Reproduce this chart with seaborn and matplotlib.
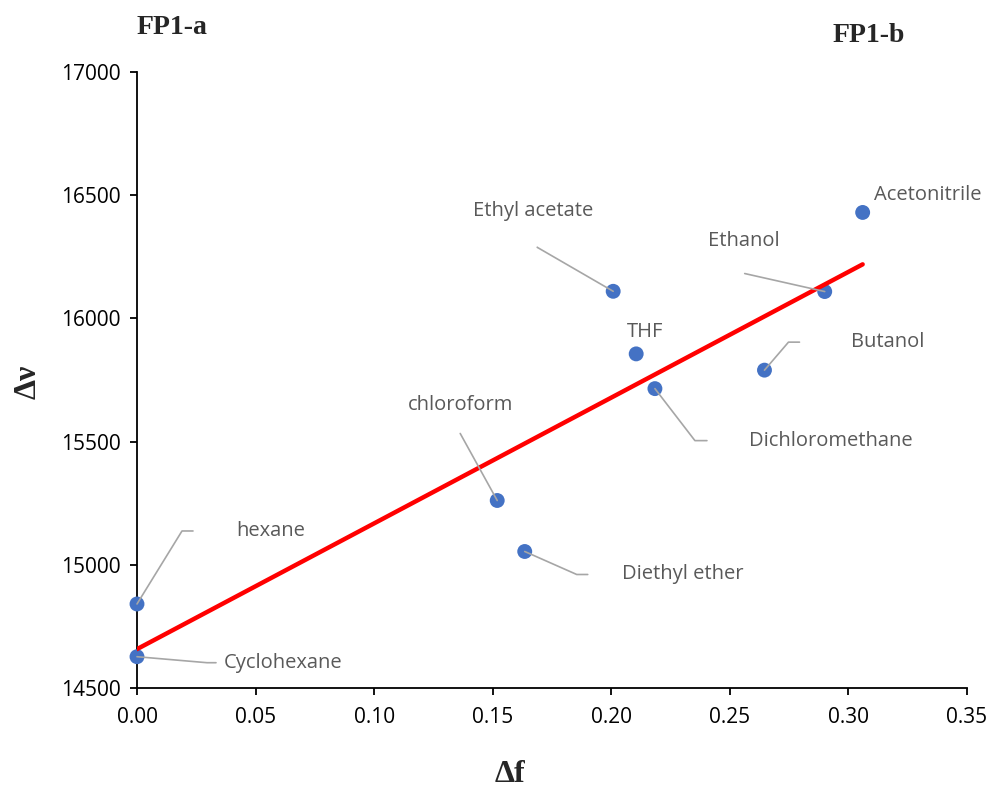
import numpy as np
import matplotlib
matplotlib.use("Agg")
import matplotlib.pyplot as plt
import seaborn as sns

# solvent polarity data (Lippert-Mataga)
solvents = ["hexane", "Cyclohexane", "chloroform", "Diethyl ether", "Ethyl acetate",
            "THF", "Dichloromethane", "Butanol", "Ethanol", "Acetonitrile"]
delta_f = [0.0, 0.0, 0.1519, 0.1635, 0.2008, 0.2105, 0.2184, 0.2646, 0.2900, 0.3060]
delta_nu = [14841, 14627, 15261, 15054, 16110, 15856, 15715, 15790, 16109, 16430]

x_ticks = [0.0, 0.05, 0.10, 0.15, 0.20, 0.25, 0.30, 0.35]
y_ticks = [14500, 15000, 15500, 16000, 16500, 17000]

# label placement in pixels: (elbow, end of leader, text pos, ha)
label_layout = {
    "hexane": ((45, 73), (56, 73), (99, 73), "left"),
    "Cyclohexane": ((70, -6), (79, -6), (87, -6), "left"),
    "chloroform": ((-37, 67), (-37, 67), (-37, 95), "center"),
    "Diethyl ether": ((52, -23), (63, -23), (97, -23), "left"),
    "Ethyl acetate": ((-76, 44), (-76, 44), (-80, 80), "center"),
    "THF": (None, None, (9, 22), "center"),
    "Dichloromethane": ((40, -52), (52, -52), (94, -52), "left"),
    "Butanol": ((24, 28), (35, 28), (87, 28), "left"),
    "Ethanol": ((-80, 18), (-80, 18), (-81, 51), "center"),
    "Acetonitrile": (None, None, (11, 17), "left"),
}

sns.set_style("white")
plt.rcParams["font.family"] = ["Open Sans", "DejaVu Sans"]

fig = plt.figure(figsize=(9.88, 7.88), dpi=100)
ax = fig.add_axes([137/988, 1-688/788, (967-137)/988, (688-72)/788])

sns.regplot(x=delta_f, y=delta_nu, ax=ax, ci=None, truncate=True,
            scatter_kws=dict(s=115, color="#4472C4", edgecolor="none", alpha=1,
                             zorder=3, clip_on=False),
            line_kws=dict(color="#FF0000", lw=3.2, zorder=4))

ax.set_xlim(0, 0.35)
ax.set_ylim(14500, 17000)
ax.set_xticks(x_ticks)
ax.set_yticks(y_ticks)
ax.set_xticklabels([f"{v:.2f}" for v in x_ticks])
ax.set_yticklabels([str(v) for v in y_ticks])
ax.set_xlabel("")
ax.set_ylabel("")
ax.tick_params(axis="both", labelsize=15, colors="black", length=5, width=1.3,
               direction="out", bottom=True, left=True, pad=7)
ax.tick_params(axis="x", pad=9)
for side in ["top", "right"]:
    ax.spines[side].set_visible(False)
for side in ["left", "bottom"]:
    ax.spines[side].set_color("black")
    ax.spines[side].set_linewidth(1.3)

for name, xv, yv in zip(solvents, delta_f, delta_nu):
    elbow, end, txt, ha = label_layout[name]
    if elbow is not None:
        ang = np.degrees(np.arctan2(elbow[1], elbow[0]))
        ax.annotate("", xy=(xv, yv), xytext=end, textcoords="offset pixels",
                    arrowprops=dict(arrowstyle="-", color="#a6a6a6", lw=1.2,
                                    shrinkA=0, shrinkB=0,
                                    connectionstyle=f"angle,angleA=0,angleB={ang},rad=0"),
                    zorder=5)
    ax.annotate(name, xy=(xv, yv), xytext=txt, textcoords="offset pixels",
                ha=ha, va="center", fontsize=14.5, color="#595959")

serif = ["Liberation Serif", "DejaVu Serif"]
fig.text(137/988, 1-27/788, "FP1-a", family=serif, fontsize=20, fontweight="bold",
         ha="left", va="center")
fig.text(833/988, 1-35/788, "FP1-b", family=serif, fontsize=20, fontweight="bold",
         ha="left", va="center")
fig.text(28/988, 1-382/788, "Δν", family=serif, fontsize=23, fontweight="bold",
         rotation=90, ha="center", va="center")
fig.text(510/988, 1-775/788, "Δf", family=serif, fontsize=23, fontweight="bold",
         ha="center", va="center")

fig.savefig("out.png", dpi=100)
